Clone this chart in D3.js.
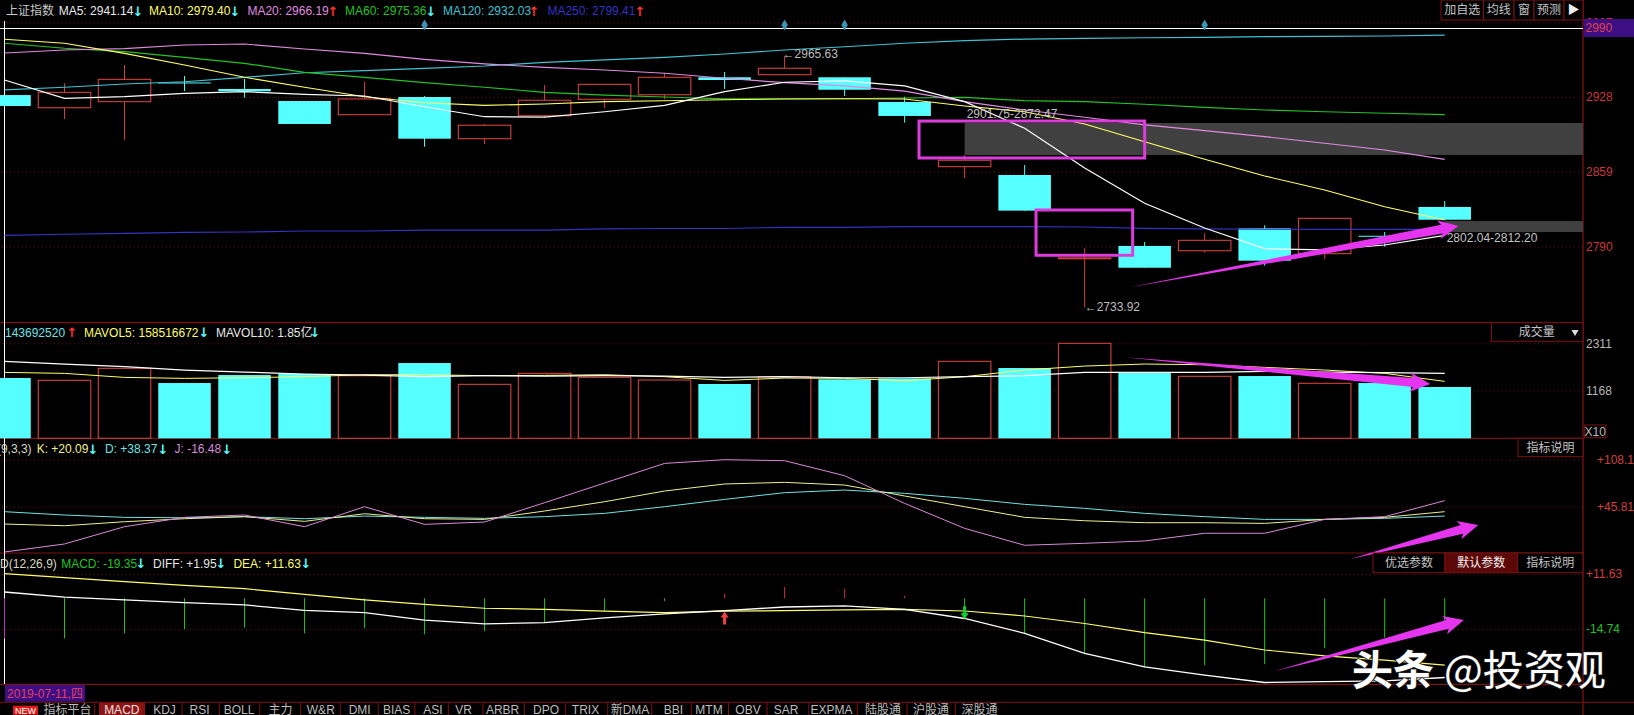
<!DOCTYPE html>
<html>
<head>
<meta charset="utf-8">
<script src="https://cdn.jsdelivr.net/npm/d3@7"></script>
<style>
html, body { margin:0; padding:0; background:#000; overflow:hidden; }
svg { display:block; }
text { font-family:"Liberation Sans","Noto Sans CJK SC","DejaVu Sans",sans-serif; font-size:12px; }
</style>
</head>
<body>
<div class="chart"></div>
<script>
// candles (index points)
const opens  = [2929.8,2918.1,2923.7,2941.4,2935.4,2924.3,2911.7,2928,2889.5,2910.7,2925.9,2930.1,2946.2,2948.6,2946.2,2923.4,2863.7,2856,2778.7,2790.5,2786.1,2806.8,2783.4,2799.9,2826.5];
const closes = [2919.7,2932.3,2944.3,2940.5,2933.3,2903.1,2926.2,2889.5,2901.9,2925,2939.7,2946.2,2943.7,2954.5,2934.7,2910.5,2869.6,2823.1,2779.5,2770.4,2795.7,2776.9,2816,2799,2814.7];
const highs  = [2929.8,2940.6,2957.5,2947.4,2944.6,2924.3,2942.1,2928.9,2903.1,2939.1,2939.7,2950.4,2951.1,2965.63,2946.2,2928.3,2874.5,2865.2,2788.3,2794.2,2802.2,2809.6,2816,2803.4,2832];
const lows   = [2919.7,2907.7,2888.3,2933.5,2927.4,2903.1,2911.7,2882.1,2884.6,2908.9,2917.8,2925.9,2935.4,2948.6,2928.9,2904.3,2853.2,2823.1,2733.92,2770.4,2784.3,2772.3,2778.2,2789.8,2814.7];

const ma5   = [2943.7,2926.8,2928.3,2931.4,2932.9,2930.5,2928.9,2919,2909.8,2909.5,2914.4,2920.3,2932.9,2941.6,2942.8,2938.2,2923.7,2899.1,2862.5,2829.9,2807.1,2788,2786.8,2791.4,2800.3];
const ma10  = [2981.3,2977.6,2968.3,2957.5,2946.2,2937,2928.3,2922.7,2920.3,2921.5,2923.7,2924.6,2925.5,2926.2,2926.4,2926.2,2919.7,2914.4,2903.1,2886.7,2870.5,2855.1,2842.2,2826.7,2814.5];
const ma20  = [2968.6,2971.4,2972.6,2976,2976.9,2972.3,2968.3,2962.8,2958.5,2955.4,2952.9,2949.9,2945.3,2941.2,2938.2,2933.5,2923.7,2916,2909.3,2902.2,2896.9,2891.4,2885.3,2879.1,2870.5];
const ma60  = [2977.6,2973,2969.8,2964.6,2959.1,2950.8,2946.2,2941.2,2937,2932.3,2929.8,2928,2926.2,2926.4,2926.4,2927.1,2927.7,2924.6,2923.7,2921.3,2918.5,2916,2914.4,2913,2911.7];
const ma120 = [2934.5,2937,2940,2942.1,2946.2,2950.4,2952.3,2954.5,2956.6,2960,2962.2,2964.6,2967.7,2971.4,2974.4,2977.6,2980,2981.5,2982.2,2982.7,2983.1,2983.7,2984,2984.3,2985.2];
const ma250 = [2800.3,2801.3,2802.2,2803.1,2803.4,2804.3,2804.3,2805.2,2805.2,2805.2,2806.2,2806.6,2806.6,2807.7,2807.7,2808.3,2808.3,2808.3,2808,2806.8,2806.2,2805.9,2805.9,2805.9,2805.9];

const volumes = [1467,1411,1702,1345,1539,1564,1522,1831,1313,1581,1484,1418,1321,1498,1435,1459,1873,1710,2311,1588,1508,1515,1338,1345,1248];
const mavol5  = [1604,1580,1482,1458,1474,1499,1547,1547,1523,1531,1547,1499,1409,1466,1458,1401,1499,1661,1758,1807,1790,1726,1661,1580,1385];
const mavol10 = [1872,1807,1742,1661,1612,1563,1539,1499,1523,1515,1523,1515,1482,1499,1474,1474,1499,1523,1604,1604,1604,1628,1612,1596,1580];

const kLine = [22.8,20.6,25.9,29.9,32.6,26.4,36.5,29.9,29,40.1,52.4,66.6,75.9,78.1,74.5,60,45.8,31.7,27.2,24.6,24.6,23.7,29,31.7,39.2];
const dLine = [39.2,34.8,31.7,31.2,32.6,29.9,33.4,31.7,30.4,32.6,37,45.8,55.5,64.4,67.9,63.5,56.9,48.9,43.6,37,32.6,29,29,30.4,33.4];
const jLine = [-14.2,-3.6,19.3,31.7,34.8,19.3,45.8,22.4,25.5,51.1,77.2,103.2,108.1,106.8,86.9,50.2,17.1,-5.3,-2.7,0.4,10.6,10.6,29,32.6,53.8];

const macdBars = [-19.35,-19.2,-16.8,-14.9,-14.1,-16.8,-14.4,-17.3,-15.7,-11.7,-6.1,-1.4,2.2,5.4,4.6,1.2,-9.7,-16.8,-26.8,-33.2,-32.1,-31.6,-24,-18.9,-10.9];
const diff = [3,0.5,-0.8,-2.1,-3.2,-5.8,-6.9,-10.5,-12.3,-11.7,-9.4,-7.5,-5.9,-4.2,-3.7,-5.3,-9.7,-16.8,-26.4,-32.9,-36.9,-40.4,-40,-39.6,-38];
const dea  = [11.8,9.9,8,6.2,4.6,1.9,-0.8,-2.9,-4.8,-5.3,-6.2,-6.9,-6.2,-5.9,-5.6,-5.3,-6.1,-8.5,-12.1,-16.5,-20.1,-24.8,-27.6,-29.7,-32.1];

// price gaps (first day, top, bottom, label)
const gapDays = [16,24];
const gapTops = [2904,2813.5];
const gapBottoms = [2874.5,2803.4];
const gapLabels = ["2901.75-2872.47","2802.04-2812.20"];

const noticeDays = [7,13,14,20];
const signalDays = [12,16];
const signalVals = [-6.4,-10.1];

const priceTicks = [2997,2928,2859,2790];
const volumeTicks = [2311,1168];
const kdjTicks = [108.1,45.81];
const macdTicks = [11.63,-14.74];

const tabNames = ["指标平台","MACD","KDJ","RSI","BOLL","主力","W&R","DMI","BIAS","ASI","VR","ARBR","DPO","TRIX","新DMA","BBI","MTM","OBV","SAR","EXPMA","陆股通","沪股通","深股通"];
const tabCentres = [67.6,121.8,164.5,199.6,239,280.6,320.8,359.7,396.7,433,463.6,502.6,546,585.5,630,673.5,709,748,786,831.6,883,931,979.6];

const width = 1634, height = 715;
const axisX = 1583, barW = 52.5;
const red = "#d2403c", cyan = "#55ffff", lineRed = "#7d1212", magenta = "#e635ee";

const svg = d3.select(".chart").append("svg").attr("width", width).attr("height", height);

const x = d3.scaleLinear().domain([0,24]).range([4.5,1444.7]);
const yPrice = d3.scaleLinear().domain([2790,2928]).range([246.5,97]);
const yVol = d3.scaleLinear().domain([0,1168]).range([438.3,390.3]);
const yKdj = d3.scaleLinear().domain([45.81,108.1]).range([506.7,459.7]);
const yMacd = d3.scaleLinear().domain([-14.74,11.63]).range([629,574]);

// horizontal panel lines + right hand axes
[322.7,438.3,553,684.3].forEach(y=>{
    svg.append("line").attr("x1",0).attr("x2",axisX).attr("y1",y).attr("y2",y)
        .attr("stroke",lineRed).attr("stroke-width",1.2);
});

function addAxis(scale, ticks, fmt, colour, labelX) {
    const g = svg.append("g").attr("transform", `translate(${axisX},0)`)
        .call(d3.axisRight(scale).tickValues(ticks).tickFormat(fmt).tickSize(-axisX).tickPadding(labelX));
    g.select(".domain").remove();
    g.selectAll("line").attr("stroke","#6a1010").attr("stroke-dasharray","1 3");
    g.selectAll("text").attr("fill",colour).style("font-size","12px");
    return g;
}
addAxis(yPrice, priceTicks, d3.format("d"), "#c8383a", 3);
addAxis(yVol, volumeTicks, d3.format("d"), "#b8b8b8", 3);
addAxis(yKdj, kdjTicks, d=>"+"+d, "#d2403c", 14);
addAxis(yMacd, macdTicks, d=>(d>0?"+":"")+d, "#d2403c", 3)
    .selectAll("text").attr("fill", d=>d>0?"#d2403c":"#22c422");

svg.append("line").attr("x1",axisX).attr("x2",axisX).attr("y1",0).attr("y2",height)
    .attr("stroke","#8a1414").attr("stroke-width",1.2);

// gaps go under everything
svg.selectAll(".gap").data(gapDays).join("rect").attr("class","gap")
    .attr("x",d=>x(d)).attr("width",d=>axisX-x(d))
    .attr("y",(d,i)=>yPrice(gapTops[i]))
    .attr("height",(d,i)=>yPrice(gapBottoms[i])-yPrice(gapTops[i]))
    .attr("fill","#404040");

// cursor
svg.append("line").attr("x1",4.5).attr("x2",4.5).attr("y1",21).attr("y2",684).attr("stroke","#fff");
svg.append("line").attr("x1",0).attr("x2",axisX).attr("y1",28.5).attr("y2",28.5).attr("stroke","#fff").attr("stroke-width",1.2);

// candles
const isUp = i => closes[i] >= opens[i];
const days = d3.range(opens.length);
const candle = svg.append("g").selectAll("g").data(days).join("g");
candle.append("line")
    .attr("x1",d=>x(d)).attr("x2",d=>x(d))
    .attr("y1",d=>yPrice(highs[d])).attr("y2",d=>yPrice(lows[d]))
    .attr("stroke",d=>isUp(d)?red:cyan);
candle.append("rect")
    .attr("x",d=>x(d)-barW/2).attr("width",barW)
    .attr("y",d=>yPrice(Math.max(opens[d],closes[d])))
    .attr("height",d=>Math.abs(yPrice(opens[d])-yPrice(closes[d])))
    .attr("fill",d=>isUp(d)?"#000":cyan)
    .attr("stroke",d=>isUp(d)?red:"none").attr("stroke-width",1.1);

function addLine(values, yScale, colour, w) {
    svg.append("path").datum(values)
        .attr("d", d3.line().x((d,i)=>x(i)).y(d=>yScale(d)))
        .attr("fill","none").attr("stroke",colour).attr("stroke-width",w||1);
}
addLine(ma250, yPrice, "#3333c4", 1.2);
addLine(ma120, yPrice, "#3fc3d3", 1.2);
addLine(ma60, yPrice, "#22c422", 1.2);
addLine(ma20, yPrice, "#e08ae0", 1.2);
addLine(ma10, yPrice, "#ffff66", 1.1);
addLine(ma5, yPrice, "#ffffff", 1.2);

svg.selectAll(".notice").data(noticeDays).join("path").attr("class","notice")
    .attr("d", d3.symbol(d3.symbolDiamond, 36))
    .attr("transform", d=>`translate(${x(d)},25)`)
    .attr("fill","#3b93b5");

// high / low notes and gap labels
function note(str, xp, yp, colour) {
    return svg.append("text").attr("x",xp).attr("y",yp).attr("dy","0.35em").attr("fill",colour||"#bdbdbd").text(str);
}
note("←2965.63", x(13)-2, yPrice(2965.63)-2);
note("←2733.92", x(18), yPrice(2733.92));
note(gapLabels[0], x(16)+2, 114, "#c4c4c4");
note(gapLabels[1], x(24)+2, 238, "#c4c4c4");

// volume
const vol = svg.append("g").selectAll("rect").data(days).join("rect")
    .attr("x",d=>x(d)-barW/2).attr("width",barW)
    .attr("y",d=>yVol(volumes[d])).attr("height",d=>yVol(0)-yVol(volumes[d]))
    .attr("fill",d=>isUp(d)?"#000":cyan)
    .attr("stroke",d=>isUp(d)?red:"none").attr("stroke-width",1.1);
addLine(mavol5, yVol, "#ffff66");
addLine(mavol10, yVol, "#ffffff", 1.2);

// kdj
addLine(dLine, yKdj, "#6fe3e3");
addLine(kLine, yKdj, "#f0f090");
addLine(jLine, yKdj, "#d98ad9");

// macd
svg.append("g").selectAll("line").data(days).join("line")
    .attr("x1",d=>x(d)).attr("x2",d=>x(d))
    .attr("y1",yMacd(0)).attr("y2",d=>yMacd(macdBars[d]))
    .attr("stroke",d=>d==0?"#b03ab0":(macdBars[d]>0?"#c83030":"#22c422"));
addLine(dea, yMacd, "#ffff66", 1.2);
addLine(diff, yMacd, "#ffffff", 1.3);

// buy / sell marks on the macd panel
svg.selectAll(".signal").data(signalDays).join("path").attr("class","signal")
    .attr("d",(d,i)=>{
        const s = i==0 ? 1 : -1, px = x(d), py = yMacd(signalVals[i]);
        return d3.line()([[px,py],[px+4,py+6*s],[px+1.5,py+6*s],[px+1.5,py+13*s],[px-1.5,py+13*s],[px-1.5,py+6*s],[px-4,py+6*s]])+"Z";
    })
    .attr("fill",(d,i)=>i==0?"#f04040":"#10d030");

// magenta hand drawn notes, kept in each panel's own units
const boxes = [[15.24,19,2905.8,2871.7],[17.19,18.8,2823.7,2781.9]];
svg.selectAll(".box").data(boxes).join("rect").attr("class","box")
    .attr("x",d=>x(d[0])).attr("width",d=>x(d[1])-x(d[0]))
    .attr("y",d=>yPrice(d[2])).attr("height",d=>yPrice(d[3])-yPrice(d[2]))
    .attr("fill","none").attr("stroke","#dc3cdc").attr("stroke-width",3);

function taper(x0,y0,x1,y1,len,headHalf,shaftHalf) {
    const l = Math.hypot(x1-x0,y1-y0), ux=(x1-x0)/l, uy=(y1-y0)/l, nx=-uy, ny=ux;
    const bx=x1-ux*len, by=y1-uy*len;
    return d3.line()([[x0,y0],
        [bx+nx*shaftHalf,by+ny*shaftHalf],
        [bx-ux*3+nx*headHalf,by-uy*3+ny*headHalf],
        [x1,y1],
        [bx-ux*3-nx*headHalf,by-uy*3-ny*headHalf],
        [bx-nx*shaftHalf,by-ny*shaftHalf]])+"Z";
}
const noteArrows = [
    [18.755,2752.4,24.23,2808.9,yPrice],
    [18.67,1970,23.76,1321,yVol],
    [22.42,-23.9,24.56,21.6,yKdj],
    [21.16,-35,24.32,-10.4,yMacd]
];
svg.selectAll(".noteArrow").data(noteArrows).join("path").attr("class","noteArrow")
    .attr("d",d=>taper(x(d[0]),d[4](d[1]),x(d[2]),d[4](d[3]),17,9.5,4.5))
    .attr("fill",magenta);

// legends
function legend(y, items) {
    items.forEach(it=>{
        const t = svg.append("text").attr("x",it[0]).attr("y",y).attr("dy","0.35em").attr("fill",it[2]).text(it[1]);
        if (it[3]) t.attr("text-anchor",it[3]);
        if (it[4]) t.style("font-family","'DejaVu Sans'").style("font-weight","700").style("font-size","13px");
    });
}
const up = a=>[a+3,"↑","#ff3030","middle",true], down = a=>[a+3,"↓",cyan,"middle",true];
legend(11,[[6,"上证指数","#c8c8c8"],[58.7,"MA5: 2941.14","#e8e8e8"],down(135),[149,"MA10: 2979.40","#ffff66"],down(232),
    [247.4,"MA20: 2966.19","#e08ae0"],up(330),[345,"MA60: 2975.36","#22c422"],down(428),[443,"MA120: 2932.03","#3fc3d3"],up(531),
    [547.4,"MA250: 2799.41","#3333c4"],up(637)]);
legend(332.7,[[5,"143692520","#6fe3e3"],up(69),[84,"MAVOL5: 158516672","#ffff66"],down(201),[216,"MAVOL10: 1.85亿","#e8e8e8"],down(312)]);
legend(449,[[31.6,"KDJ(9,3,3)","#d8d8c0","end"],[36.7,"K: +20.09","#f0f090"],down(90),[105,"D: +38.37","#6fe3e3"],down(160),[174.5,"J: -16.48","#d98ad9"],down(224)]);
legend(563.5,[[56.8,"MACD(12,26,9)","#d8d8c0","end"],[61.2,"MACD: -19.35","#22c422"],down(138),[153,"DIFF: +1.95","#e8e8e8"],down(218),[233.4,"DEA: +11.63","#ffff66"],down(303)]);

// buttons
function button(x0,x1,y0,y1,label,opts) {
    opts = opts||{};
    svg.append("rect").attr("x",x0).attr("y",y0).attr("width",x1-x0).attr("height",y1-y0)
        .attr("fill",opts.fill||"#000").attr("stroke",lineRed);
    svg.append("text").attr("x",opts.cx||(x0+x1)/2).attr("y",(y0+y1)/2).attr("dy","0.35em")
        .attr("text-anchor","middle").attr("fill",opts.colour||"#c4c4c4").text(label);
}
button(1441,1483.5,0,20,"加自选");
button(1483.5,1514,0,20,"均线");
button(1514,1534,0,20,"窗");
button(1534,1564,0,20,"预测");
button(1564,1583,0,20,"▶",{colour:"#eee"});
button(1491.5,1583,322.7,341.3,"成交量",{cx:1536.7});
svg.append("path").attr("d",d3.symbol(d3.symbolTriangle,22))
    .attr("transform","translate(1575,332) rotate(180)").attr("fill","#ddd");
button(1584.6,1605.8,425,437.7,"X10",{colour:"#b8b8b8"});
button(1518,1583,438.3,456.7,"指标说明");
button(1373,1445,553,572.7,"优选参数");
button(1445,1517.6,553,572.7,"默认参数",{fill:"#5c0808",colour:"#f2f2f2"});
button(1517.6,1583,553,572.7,"指标说明");

// current price tag
svg.append("rect").attr("x",axisX+0.6).attr("y",19).attr("width",width-axisX).attr("height",18).attr("fill","#3d0f85");
svg.append("text").attr("x",1585.5).attr("y",28).attr("dy","0.35em").attr("fill","#e04040").text("2990");

// date tag
svg.append("rect").attr("x",5).attr("y",685).attr("width",80).attr("height",16.7).attr("fill","#3d0f85");
svg.append("text").attr("x",45).attr("y",693.5).attr("dy","0.35em").attr("text-anchor","middle").attr("fill","#e04060").text("2019-07-11,四");

// bottom tabs
svg.append("line").attr("x1",0).attr("x2",width).attr("y1",702.3).attr("y2",702.3).attr("stroke",lineRed);
svg.append("rect").attr("x",13).attr("y",705.7).attr("width",25).attr("height",9).attr("fill","#e01818");
svg.append("text").attr("x",25.5).attr("y",710.5).attr("dy","0.35em").attr("text-anchor","middle").attr("fill","#fff").style("font-size","9px").text("NEW");
svg.append("rect").attr("x",99).attr("y",702.8).attr("width",46).attr("height",13).attr("fill","#8c1414");
tabCentres.forEach((c,i)=>{
    svg.append("text").attr("x",c).attr("y",710).attr("dy","0.35em").attr("text-anchor","middle")
        .attr("fill",i==1?"#f0e0e0":"#bcbcbc").text(tabNames[i]);
    if (i<tabCentres.length-1) {
        const b = (c+tabCentres[i+1])/2;
        svg.append("line").attr("x1",b).attr("x2",b).attr("y1",702.3).attr("y2",715).attr("stroke",lineRed);
    }
});

// watermark
const mark = svg.append("g").attr("fill","#fff").attr("stroke","#222").attr("stroke-width",1.5).attr("paint-order","stroke");
mark.append("text").attr("x",1352).attr("y",685).style("font-size","41px").style("font-weight","700").text("头条");
mark.append("text").attr("x",1444).attr("y",685).style("font-size","41px").style("font-family","'Noto Sans CJK SC'").text("@投资观");
</script>
</body>
</html>
